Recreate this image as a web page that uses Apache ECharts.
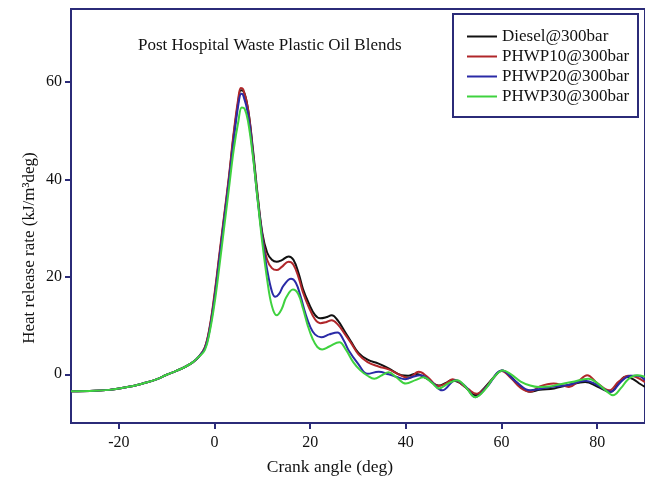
<!DOCTYPE html>
<html><head><meta charset="utf-8">
<script src="https://cdn.jsdelivr.net/npm/echarts@6/dist/echarts.min.js"></script>
<style>html,body{margin:0;padding:0;background:#fff}#c{width:645px;height:480px}</style>
</head><body><div id="c"></div>
<script>
const seriesNames = ['Diesel@300bar','PHWP10@300bar','PHWP20@300bar','PHWP30@300bar'];
const xTicks = [-20,0,20,40,60,80];
const yTicks = [0,20,40,60];
const early = [[-30,-3.5],[-25,-3.4],[-22,-3.2],[-20,-2.9],[-17,-2.4],[-15,-1.9],[-12,-1.0],[-10,-0.1],[-8,0.7],[-6,1.6],[-4.5,2.5],[-3.3,3.6]];
const diesel = [[-2,5.5],[-1,9.5],[0,16],[1,24],[2,32],[3,40],[4,49],[5,56.2],[5.5,58.3],[6,58.2],[7,54.5],[8,46.5],[9,37],[10,29],[11,25],[12,23.5],[13,23.1],[14,23.4],[15.5,24.2],[16.5,23.5],[17.6,20.7],[18.5,17.5],[19.7,14.6],[21,12.2],[22.1,11.5],[23.3,11.7],[24.5,12.1],[25.8,11],[27.3,8.7],[28.5,6.8],[30.1,4.4],[32,3.0],[34.3,2.2],[36.4,1.2],[39.1,-0.2],[40.5,-0.3],[42,0.1],[44.4,-0.9],[46.9,-2.3],[48.5,-1.7],[49.6,-1.2],[51,-1.6],[52.4,-2.6],[54.5,-4.3],[56.6,-2.6],[58.5,-0.5],[60.1,0.8],[62,-0.5],[64,-2.5],[66,-3.6],[68,-3.2],[71,-2.9],[74,-2.2],[77.5,-1.6],[80,-2.5],[82.8,-3.6],[84.5,-1.8],[85.9,-0.5],[87.5,-1.0],[89,-2.0],[90,-2.6]];
const phwp10 = [[-2,5.6],[-1,9.8],[0,16.5],[1,24.5],[2,32.5],[3,40.5],[4,49.5],[5,56.8],[5.5,58.8],[6,58.5],[7,54.5],[8,46],[9,36.5],[10,28.5],[11,23.5],[12,21.8],[13,21.4],[14,22.0],[15.5,23.1],[16.5,22.5],[17.6,19.8],[18.5,16.8],[19.7,13.8],[21,11.3],[22.1,10.5],[23.3,10.7],[24.5,11.1],[25.8,10.2],[27.3,8.2],[28.5,6.5],[30.1,4.1],[32,2.5],[34.3,1.6],[36.4,1.0],[38.5,0.0],[40.5,-0.8],[42.7,0.5],[44.5,-0.5],[46.9,-2.4],[48.5,-1.8],[49.8,-1.0],[51.5,-1.9],[53,-3.0],[54.8,-4.0],[56.6,-2.8],[58.5,-0.5],[60,0.7],[62,-0.8],[64,-2.8],[66,-3.6],[68,-2.5],[70.9,-1.9],[73,-2.3],[74.1,-2.6],[76,-1.5],[77.9,-0.2],[80,-1.8],[82.5,-3.3],[84.5,-1.5],[86.5,-0.3],[88,-0.5],[90,-1.6]];
const phwp20 = [[-2,5.3],[-1,9.2],[0,15.5],[1,23.5],[2,31.5],[3,39.5],[4,48],[5,55.5],[5.6,57.6],[6,57.3],[7,53.5],[8,45.5],[9,36],[10,28],[11,21.5],[12,17],[12.7,15.9],[13.5,16.5],[14.5,18.3],[16,19.6],[17,18.8],[18,16],[19,12.5],[20,9.8],[21,8.2],[22.3,7.6],[24,8.2],[25.7,8.6],[27,7],[28,5],[30,2.2],[32,0.1],[34.3,0.5],[36.4,0],[38,-0.5],[39.9,-1.0],[41.5,-0.5],[43,-0.2],[45.4,-1.6],[47.6,-3.3],[50.4,-1.2],[52.5,-2.5],[54.5,-4.7],[57,-2.5],[60.1,0.8],[63,-1.5],[66,-3.3],[68,-3.0],[71,-2.5],[74,-2.2],[77.5,-1.3],[80,-2.2],[82.8,-3.6],[85,-1.5],[87,-0.3],[88.5,-0.3],[90,-1.2]];
const phwp30 = [[-2,5.0],[-1,8.7],[0,14.5],[1,22],[2,30],[3,38],[4,46],[5,52],[5.7,54.8],[6.3,54.5],[7,52],[8,45],[9,36],[10,27],[11,19.5],[12,14],[13,12.1],[14,13.3],[15,15.8],[16.4,17.4],[17.5,16.5],[18.5,13.5],[19.5,10],[20.5,7.3],[21.5,5.6],[22.5,5.1],[24,5.7],[26.1,6.6],[27.5,5],[29,2.5],[30.5,0.8],[32,-0.3],[33.4,-0.9],[35,-0.2],[36.4,0.4],[38,-0.6],[40,-1.9],[42,-1.2],[43.7,-0.6],[45.5,-1.8],[46.9,-2.9],[49,-1.8],[50.7,-1.2],[52.5,-2.6],[54.5,-4.7],[56.5,-3.2],[58.5,-0.5],[60.3,0.8],[62,0.0],[64,-1.5],[66,-2.3],[67.8,-2.6],[70,-2.5],[72,-2.1],[74.7,-1.6],[78.2,-0.9],[80,-1.8],[82,-3.5],[83.3,-4.3],[85,-2.8],[86.5,-1],[88.3,-0.2],[90,-0.5]];
const allData = [early.concat(diesel), early.concat(phwp10), early.concat(phwp20), early.concat(phwp30)];
const colors = ['#111111','#b0272a','#2a2aa6','#3fd23f'];
const navy = '#2b2b78';
const serif = 'Liberation Serif';
const chart = echarts.init(document.getElementById('c'));
chart.setOption({
  animation:false,
  grid:{left:71,right:0,top:9,bottom:57,show:true,borderColor:navy,borderWidth:2,backgroundColor:'transparent'},
  title:{text:'Post Hospital Waste Plastic Oil Blends',left:133,top:32,textStyle:{fontFamily:serif,fontSize:17,fontWeight:'normal',color:'#111'}},
  legend:{orient:'vertical',left:462,top:23,itemGap:3,itemWidth:30,itemHeight:14,icon:'path://M0,6L30,6L30,8L0,8Z',
    textStyle:{fontFamily:serif,fontSize:17,color:'#111',padding:[0,0,0,0]},data:seriesNames},
  graphic:[
    {type:'rect',shape:{x:453,y:14,width:185,height:103},style:{fill:'none',stroke:navy,lineWidth:2},z:100},
    {type:'text',x:30,y:248,rotation:Math.PI/2,style:{text:'Heat release rate (kJ/m³deg)',fontFamily:serif,fontSize:17,fill:'#111',align:'center',verticalAlign:'middle'}},
    {type:'text',x:330,y:467,style:{text:'Crank angle (deg)',fontFamily:serif,fontSize:17.5,fill:'#111',align:'center',verticalAlign:'middle'}}
  ],
  xAxis:{type:'value',min:-30,max:90,
    axisLine:{show:true,onZero:false,lineStyle:{color:navy,width:2}},
    axisTick:{show:true,length:6,lineStyle:{color:navy,width:2},customValues:xTicks},
    axisLabel:{fontFamily:serif,fontSize:16,color:'#111',margin:12,customValues:xTicks},
    splitLine:{show:false}},
  yAxis:{type:'value',min:-10,max:75,
    axisLine:{show:true,onZero:false,lineStyle:{color:navy,width:2}},
    axisTick:{show:true,length:6,lineStyle:{color:navy,width:2},customValues:yTicks},
    axisLabel:{fontFamily:serif,fontSize:16,color:'#111',margin:9,customValues:yTicks},
    splitLine:{show:false}},
  series: seriesNames.map((n,i)=>({name:n,type:'line',data:allData[i],smooth:0.4,showSymbol:false,
    lineStyle:{color:colors[i],width:2},itemStyle:{color:colors[i]},z:2+i}))
});
</script></body></html>
